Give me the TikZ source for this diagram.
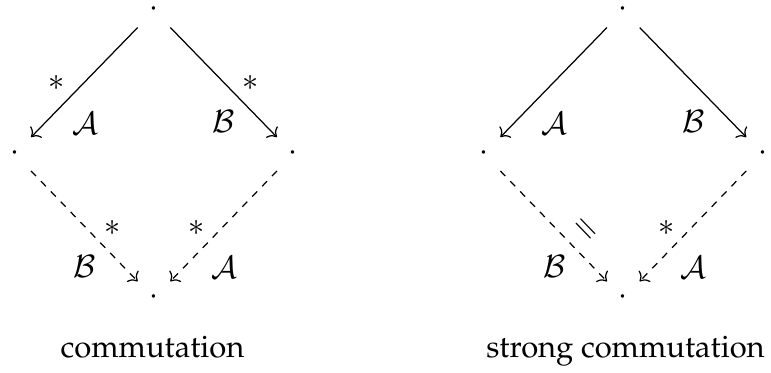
\documentclass[tikz,border=0pt]{standalone}
\usepackage[T1]{fontenc}
\usepackage{mathpazo}
\usetikzlibrary{arrows.meta, positioning}

\tikzset{
  spot/.style={inner sep=0pt, minimum size=1pt, text height=4pt, text depth=-2pt},
  lab/.style={inner sep=0pt},
  move/.style={-{Computer Modern Rightarrow}, shorten <=7.6pt, shorten >=7.6pt},
  joinmove/.style={move, dash pattern=on 2.3pt off 2.3pt}
}

\begin{document}
\begin{tikzpicture}[x=0.323pt, y=0.323pt]
\useasboundingbox (0,0) rectangle (771,372);

% ========== commutation ==========
\begin{scope}
  \node[spot] (lt) at (154,361.3) {$\cdot$};
  \node[spot] (ll) at (14.7,218) {$\cdot$};
  \node[spot] (lr) at (293.3,218) {$\cdot$};
  \node[spot] (lb) at (154,73.7) {$\cdot$};

  \draw[move] (lt.center) -- (ll.center)
    node[lab, midway, shift={(-27.4,-0.6)}] {$*$}
    node[lab, midway, shift={(0.6,-41.6)}] {$\mathcal{A}$};
  \draw[move] (lt.center) -- (lr.center)
    node[lab, midway, shift={(27.4,-0.6)}] {$*$}
    node[lab, midway, shift={(0.4,-39.6)}] {$\mathcal{B}$};
  \draw[joinmove] (ll.center) -- (lb.center)
    node[lab, midway, shift={(28.6,-1.8)}] {$*$}
    node[lab, midway, shift={(0.6,-40.8)}] {$\mathcal{B}$};
  \draw[joinmove] (lr.center) -- (lb.center)
    node[lab, midway, shift={(-26.6,-1.8)}] {$*$}
    node[lab, midway, shift={(0.4,-41.8)}] {$\mathcal{A}$};

  \node[anchor=base] (capl) at (152.5,15) {commutation};
\end{scope}

% ========== strong commutation ==========
\begin{scope}[shift={(469.3,0)}]
  \node[spot] (rt) at (154,361.3) {$\cdot$};
  \node[spot] (rl) at (14.7,218) {$\cdot$};
  \node[spot] (rr) at (293.3,218) {$\cdot$};
  \node[spot] (rb) at (154,73.7) {$\cdot$};

  \draw[move] (rt.center) -- (rl.center)
    node[lab, midway, shift={(0.6,-41.6)}] {$\mathcal{A}$};
  \draw[move] (rt.center) -- (rr.center)
    node[lab, midway, shift={(0.4,-39.6)}] {$\mathcal{B}$};
  \draw[joinmove] (rl.center) -- (rb.center)
    node[lab, pos=0.62, sloped, above=4pt] {$=$}
    node[lab, midway, shift={(0.6,-40.8)}] {$\mathcal{B}$};
  \draw[joinmove] (rr.center) -- (rb.center)
    node[lab, midway, shift={(-26.6,-1.8)}] {$*$}
    node[lab, midway, shift={(0.4,-41.8)}] {$\mathcal{A}$};

  \node[anchor=base] (capr) at (156.2,15) {strong commutation};
\end{scope}

\end{tikzpicture}
\end{document}
